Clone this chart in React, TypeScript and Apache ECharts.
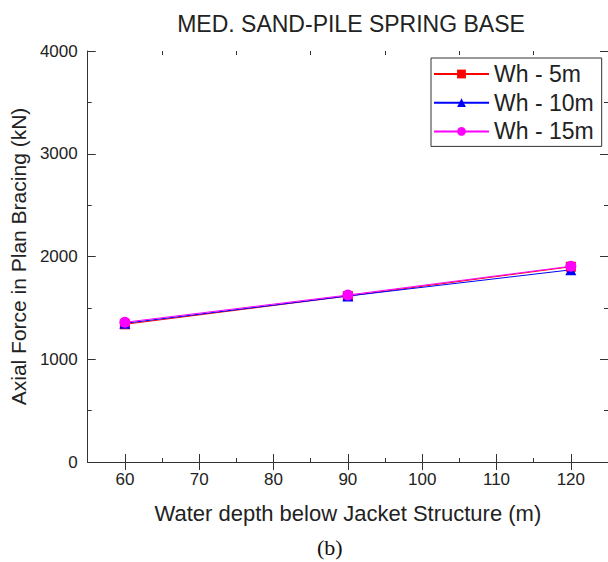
import React, { useEffect, useRef } from "react";
import * as echarts from "echarts";

const depths = [60, 90, 120];
const wh5 = [1340, 1615, 1900];
const wh10 = [1350, 1615, 1870];
const wh15 = [1360, 1625, 1905];
const seriesNames = ["Wh - 5m", "Wh - 10m", "Wh - 15m"];
const xMajor = [60, 70, 80, 90, 100, 110, 120];
const xMinor = [65, 75, 85, 95, 105, 115];

const FONT = "'Liberation Sans', Arial, sans-serif";
const TXT = "#222";

export default function App() {
  const ref = useRef<HTMLDivElement>(null);
  useEffect(() => {
    document.body.style.margin = "0";
    const chart = echarts.init(ref.current!, null, { renderer: "svg" });
    const grid = { left: 86, top: 51, width: 523, height: 411 };
    const baseX = {
      type: "value" as const,
      min: 55,
      max: 125,
      splitLine: { show: false },
      axisLine: { show: true, lineStyle: { color: "#333", width: 1 } },
    };
    const mk = (data: number[], name: string, color: string, symbol: string, size: number) => ({
      type: "line",
      name,
      data: depths.map((d, i) => [d, data[i]]),
      symbol,
      symbolSize: size,
      lineStyle: { color, width: 1 },
      itemStyle: { color },
      xAxisIndex: 0,
      yAxisIndex: 0,
    });
    chart.setOption({
      animation: false,
      backgroundColor: "#fff",
      title: {
        text: "MED. SAND-PILE SPRING BASE",
        left: 346,
        textAlign: "center",
        top: 7,
        textStyle: { fontFamily: FONT, fontSize: 23, fontWeight: "normal", color: TXT },
      },
      grid,
      legend: {
        orient: "vertical",
        left: 431,
        top: 58,
        padding: [4, 8, 3, 2],
        itemGap: 4.7,
        itemWidth: 55,
        itemHeight: 11,
        borderColor: "#333",
        borderWidth: 1,
        borderRadius: 0,
        backgroundColor: "#fff",
        textStyle: { fontFamily: FONT, fontSize: 23, lineHeight: 24, color: TXT },
        data: seriesNames,
      },
      xAxis: [
        {
          ...baseX,
          position: "bottom",
          name: "Water depth below Jacket Structure (m)",
          nameLocation: "middle",
          nameGap: 40,
          nameTextStyle: { fontFamily: FONT, fontSize: 22, color: TXT },
          axisTick: { show: true, inside: true, length: 8, customValues: xMajor, lineStyle: { color: "#333" } },
          axisLabel: { show: true, customValues: xMajor, margin: 9, fontFamily: FONT, fontSize: 17, color: TXT },
        },
        {
          ...baseX,
          position: "top",
          axisTick: { show: true, inside: true, length: 8, customValues: xMajor, lineStyle: { color: "#333" } },
          axisLabel: { show: false },
        },
        {
          ...baseX,
          position: "bottom",
          axisLine: { show: false },
          axisTick: { show: true, inside: true, length: 4, customValues: xMinor, lineStyle: { color: "#333" } },
          axisLabel: { show: false },
        },
        {
          ...baseX,
          position: "top",
          axisLine: { show: false },
          axisTick: { show: true, inside: true, length: 4, customValues: xMinor, lineStyle: { color: "#333" } },
          axisLabel: { show: false },
        },
      ],
      yAxis: [
        {
          type: "value",
          min: 0,
          max: 4000,
          interval: 1000,
          position: "left",
          name: "Axial Force in Plan Bracing (kN)",
          nameLocation: "middle",
          nameGap: 50,
          nameTextStyle: { fontFamily: FONT, fontSize: 21, color: TXT },
          splitLine: { show: false },
          axisLine: { show: true, lineStyle: { color: "#333" } },
          axisTick: { show: true, inside: true, length: 8, lineStyle: { color: "#333" } },
          minorTick: { show: true, splitNumber: 2, length: 4, lineStyle: { color: "#333" } },
          axisLabel: { margin: 10, fontFamily: FONT, fontSize: 17, color: TXT, formatter: (v: number) => String(v) },
        },
        {
          type: "value",
          min: 0,
          max: 4000,
          interval: 1000,
          position: "right",
          splitLine: { show: false },
          axisLine: { show: true, lineStyle: { color: "#333" } },
          axisTick: { show: true, inside: true, length: 8, lineStyle: { color: "#333" } },
          minorTick: { show: true, splitNumber: 2, length: 4, lineStyle: { color: "#333" } },
          axisLabel: { show: false },
        },
      ],
      series: [
        mk(wh5, seriesNames[0], "#ff0000", "rect", 10),
        mk(wh10, seriesNames[1], "#0000ff", "triangle", 11),
        mk(wh15, seriesNames[2], "#ff00ff", "circle", 11),
      ],
      graphic: [
        {
          type: "text",
          left: 317,
          top: 536,
          style: { text: "(b)", font: "22px 'Liberation Serif', 'Times New Roman', serif", fill: "#111" },
        },
      ],
    });
    return () => chart.dispose();
  }, []);
  return <div ref={ref} style={{ width: 608, height: 562 }} />;
}
